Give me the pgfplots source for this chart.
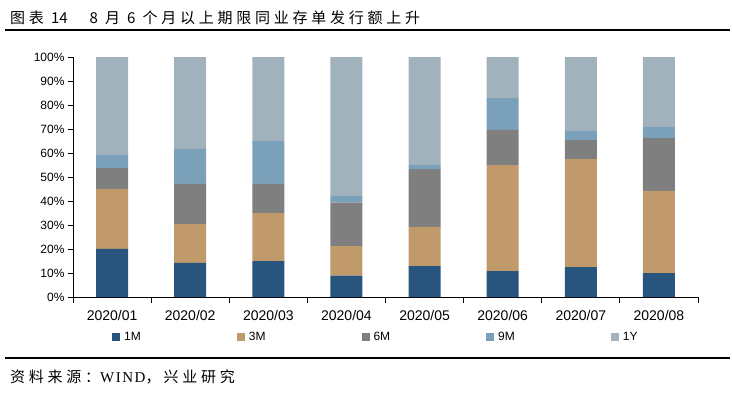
\documentclass[border=0pt]{standalone}
\usepackage{pgfplots}
\pgfplotsset{compat=1.18}
\usepackage{fontspec}
\setmainfont{Liberation Sans}
\newfontfamily\cjk[LetterSpace=25]{Noto Sans CJK SC}
\newfontfamily\cjkn{Noto Sans CJK SC}
\newfontfamily\lserif[LetterSpace=10]{Liberation Serif}
\definecolor{c1m}{HTML}{27557D}
\definecolor{c3m}{HTML}{C09A6B}
\definecolor{c6m}{HTML}{7F7F7F}
\definecolor{c9m}{HTML}{7BA0BA}
\definecolor{c1y}{HTML}{A2B2BD}
\begin{document}
\begin{tikzpicture}[x=1pt,y=1pt]
\path (0,0) rectangle (733,392);
\node[anchor=west,inner sep=0pt,font=\cjk\fontsize{15}{17}\selectfont] at (10,374) {图表 {\cjkn 14}\hspace{22pt}{\cjkn 8} 月 {\cjkn 6} 个月以上期限同业存单发行额上升};
\draw[line width=1.5pt] (5,362) -- (730,362);
\draw[line width=1.5pt] (5,34) -- (730,34);
\node[anchor=west,inner sep=0pt,font=\cjk\fontsize{15}{17}\selectfont] at (10,15) {资料来源：{\lserif WIND}，\hspace{3pt}兴业研究};
\begin{axis}[
  at={(73pt,95pt)}, anchor=south west,
  scale only axis, width=625pt, height=240pt,
  ybar stacked, bar width=32pt,
  xmin=-0.5, xmax=7.5, ymin=0, ymax=100,
  axis lines=left, axis line style={-,black,line width=0.8pt},
  xtick={0,...,7},
  xticklabels={2020/01,2020/02,2020/03,2020/04,2020/05,2020/06,2020/07,2020/08},
  minor xtick={-0.5,0.5,...,7.5},
  major x tick style={draw=none},
  minor tick length=6pt,
  ytick={0,10,...,100},
  yticklabels={0\%,10\%,20\%,30\%,40\%,50\%,60\%,70\%,80\%,90\%,100\%},
  tick align=outside, major tick length=5pt,
  tick style={black,line width=0.8pt},
  xticklabel style={font=\fontsize{14}{16}\selectfont, yshift=-5pt},
  yticklabel style={font=\fontsize{12}{14}\selectfont},
  /pgf/number format/assume math mode=true,
  legend columns=5,
  legend style={at={(0.0624,-0.1667)}, anchor=west, draw=none, inner sep=0pt,
    font=\fontsize{12}{14}\selectfont,
    /tikz/every odd column/.append style={column sep=2pt},
    /tikz/every even column/.append style={column sep=94pt}},
  legend image code/.code={\fill[#1] (0pt,-4pt) rectangle (8pt,4pt);},
]
\addplot[fill=c1m,draw=none] coordinates {(0,20.1) (1,14.2) (2,15.0) (3,8.9) (4,12.9) (5,10.8) (6,12.5) (7,10.0)};
\addplot[fill=c3m,draw=none] coordinates {(0,24.9) (1,16.2) (2,20.0) (3,12.35) (4,16.3) (5,44.2) (6,45.0) (7,34.2)};
\addplot[fill=c6m,draw=none] coordinates {(0,8.75) (1,16.7) (2,12.1) (3,18.05) (4,24.1) (5,14.6) (6,7.9) (7,22.05)};
\addplot[fill=c9m,draw=none] coordinates {(0,5.45) (1,14.6) (2,17.9) (3,2.8) (4,1.7) (5,13.3) (6,3.8) (7,4.55)};
\addplot[fill=c1y,draw=none] coordinates {(0,40.8) (1,38.3) (2,35.0) (3,57.9) (4,45.0) (5,17.1) (6,30.8) (7,29.2)};
\legend{1M,3M,6M,9M,1Y}
\end{axis}
\end{tikzpicture}
\end{document}
